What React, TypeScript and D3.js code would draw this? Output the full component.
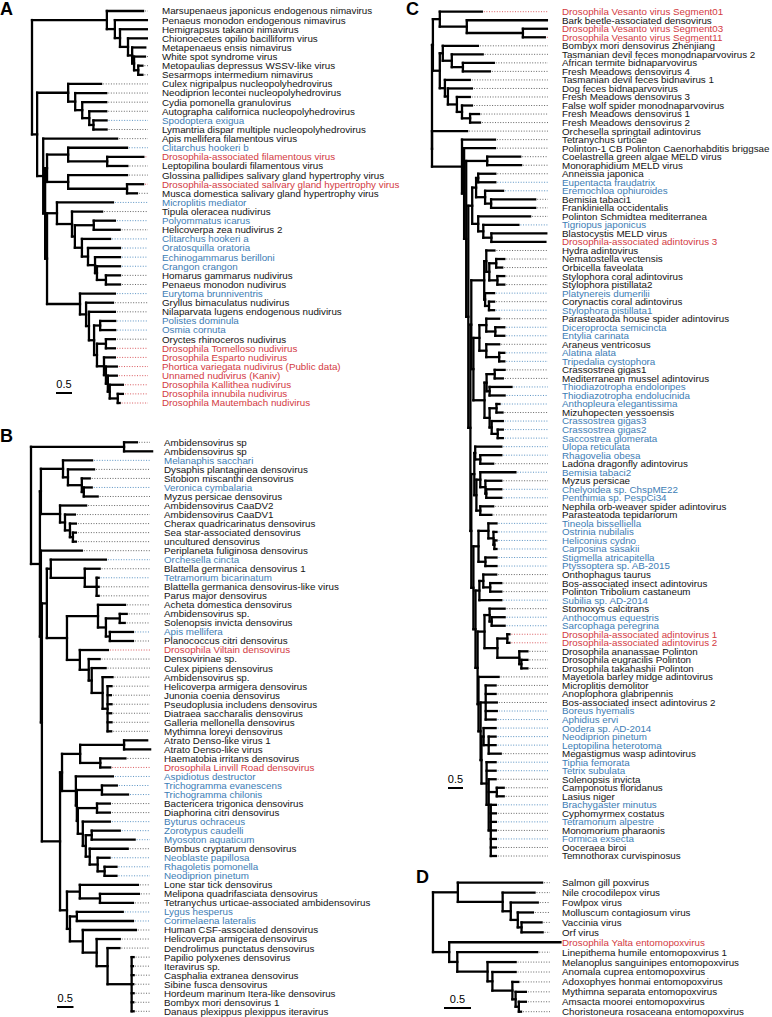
import React, { useMemo } from "react";
import * as d3 from "d3";

// ---------------- DATA ----------------
// Category of each tip: 0 = virus reference, 1 = host transcriptome (blue), 2 = Drosophila-associated (red)

const TIPS_A = [
  "Marsupenaeus japonicus endogenous nimavirus", "Penaeus monodon endogenous nimavirus", "Hemigrapsus takanoi nimavirus",
  "Chionoecetes opilio bacilliform virus", "Metapenaeus ensis nimavirus", "White spot syndrome virus",
  "Metopaulias depressus WSSV-like virus", "Sesarmops intermedium nimavirus", "Culex nigripalpus nucleopolyhedrovirus",
  "Neodiprion lecontei nucleopolyhedrovirus", "Cydia pomonella granulovirus", "Autographa californica nucleopolyhedrovirus",
  "Spodoptera exigua", "Lymantria dispar multiple nucleopolyhedrovirus", "Apis mellifera filamentous virus",
  "Clitarchus hookeri b", "Drosophila-associated filamentous virus", "Leptopilina boulardi filamentous virus",
  "Glossina pallidipes salivary gland hypertrophy virus", "Drosophila-associated salivary gland hypertrophy virus",
  "Musca domestica salivary gland hypertrophy virus", "Microplitis mediator", "Tipula oleracea nudivirus",
  "Polyommatus icarus", "Helicoverpa zea nudivirus 2", "Clitarchus hookeri a", "Oratosquilla oratoria",
  "Echinogammarus berilloni", "Crangon crangon", "Homarus gammarus nudivirus", "Penaeus monodon nudivirus",
  "Eurytoma brunniventris", "Gryllus bimaculatus nudivirus", "Nilaparvata lugens endogenous nudivirus",
  "Polistes dominula", "Osmia cornuta", "Oryctes rhinoceros nudivirus", "Drosophila Tomelloso nudivirus",
  "Drosophila Esparto nudivirus", "Phortica variegata nudivirus (Public data)", "Unnamed nudivirus (Kaniv)",
  "Drosophila Kallithea nudivirus", "Drosophila innubila nudivirus", "Drosophila Mautembach nudivirus",
];
const CATS_A = [0,0,0,0,0,0,0,0,0,0,0,0,1,0,0,1,2,0,0,2,0,1,0,1,0,1,1,1,1,0,0,1,0,0,1,1,0,2,2,2,2,2,2,2];
const NEWICK_A = `
((1:1.13,(2:1.0,(3:0.84,(4:0.59,(5:0.41,(6:0.34,(7:0.13,8:0.13):0.13):0.06):0.13):0.25):0.16):0.25):2.34,
 ((9:1.03,(10:0.97,(11:0.75,(12:0.53,(13:0.41,14:0.41):0.13):0.22):0.22):0.22):0.97,
  (15:2.31,
   (((16:1.84,(17:1.13,18:0.63):1.22):0.66,(19:1.84,(20:0.5,21:0.31):1.84):0.66):0.06,
    ((22:1.75,(23:0.94,((24:0.66,25:0.81):0.59,(26:0.88,(27:1.0,(28:0.78,(29:0.72,(30:0.44,31:0.44):0.28):0.06):0.22):0.19):0.22):0.09):0.47):0.31,
     (32:1.09,(33:0.84,(34:0.81,((35:0.47,36:0.47):0.19,((37:0.28,38:0.28):0.28,(39:0.34,(40:0.34,(41:0.28,(42:0.41,(43:0.16,44:0.06):0.25):0.06):0.06):0.06):0.22):0.09):0.16):0.09):0.19):1.03
    ):0.06
   ):0.06
  ):0.19
 ):0.16);`;

const TIPS_B = [
  "Ambidensovirus sp", "Ambidensovirus sp", "Melanaphis sacchari", "Dysaphis plantaginea densovirus",
  "Sitobion miscanthi densovirus", "Veronica cymbalaria", "Myzus persicae densovirus", "Ambidensovirus CaaDV2",
  "Ambidensovirus CaaDV1", "Cherax quadricarinatus densovirus", "Sea star-associated densovirus", "uncultured densovirus",
  "Periplaneta fuliginosa densovirus", "Orchesella cincta", "Blattella germanica densovirus 1", "Tetramorium bicarinatum",
  "Blattella germanica densovirus-like virus", "Parus major densovirus", "Acheta domestica densovirus", "Ambidensovirus sp.",
  "Solenopsis invicta densovirus", "Apis mellifera", "Planococcus citri densovirus", "Drosophila Viltain densovirus",
  "Densovirinae sp.", "Culex pipiens densovirus", "Ambidensovirus sp.", "Helicoverpa armigera densovirus",
  "Junonia coenia densovirus", "Pseudoplusia includens densovirus", "Diatraea saccharalis densovirus",
  "Galleria mellonella densovirus", "Mythimna loreyi densovirus", "Atrato Denso-like virus 1", "Atrato Denso-like virus",
  "Haematobia irritans densovirus", "Drosophila Linvill Road densovirus", "Aspidiotus destructor", "Trichogramma evanescens",
  "Trichogramma chilonis", "Bactericera trigonica densovirus", "Diaphorina citri densovirus", "Byturus ochraceus",
  "Zorotypus caudelli", "Myosoton aquaticum", "Bombus cryptarum densovirus", "Neoblaste papillosa", "Rhagoletis pomonella",
  "Neodiprion pinetum", "Lone star tick densovirus", "Melipona quadrifasciata densovirus",
  "Tetranychus urticae-associated ambidensovirus", "Lygus hesperus", "Corimelaena lateralis", "Human CSF-associated densovirus",
  "Helicoverpa armigera densovirus", "Dendrolimus punctatus densovirus", "Papilio polyxenes densovirus", "Iteravirus sp.",
  "Casphalia extranea densovirus", "Sibine fusca densovirus", "Hordeum marinum Itera-like densovirus",
  "Bombyx mori densovirus 1", "Danaus plexippus plexippus iteravirus",
];
const CATS_B = [0,0,1,0,0,1,0,0,0,0,0,0,0,1,0,1,0,0,0,0,0,1,0,2,0,0,0,0,0,0,0,0,0,0,0,0,2,1,1,1,0,0,1,1,1,0,1,1,1,0,0,0,1,1,0,0,0,0,0,0,0,0,0,0];
const NEWICK_B = `
((1:0.39,2:0.85):2.82,
 (((3:0.88,(4:0.79,(5:0.24,(6:0.24,7:0.42):0.06):0.42):0.15):0.67,
   (8:0.79,(9:0.30,(10:0.18,(11:0.09,12:0.09):0.09):0.15):0.15):0.58):0.03,
  (13:1.24,
   (((14:1.67,(15:0.45,(16:0.06,17:0.06,18:0.06):0.36):1.03):0.12,
     ((19:0.82,((20:0.21,21:0.15):0.42,(22:0.70,23:0.70):0.12):0.24):0.94,
      (24:0.85,(25:0.33,(26:0.42,(27:0.30,(28:0.12,29:0.10,30:0.12,31:0.11,32:0.12,33:0.11):0.15):0.33):0.09):0.27):0.39
     ):0.61
    ):0.15,
    ((((34:0.70,35:0.79):1.33,(36:0.76,37:0.30):0.61):0.55,
      (38:1.12,((39:0.45,40:0.79):0.76,((41:0.39,42:0.39):0.58,(43:0.82,((44:0.85,45:1.30):0.18,(46:1.15,(47:0.36,(48:0.36,49:0.36):0.21):0.24):0.12):0.09):0.15):0.03):0.03):0.42
     ):0.06,
     ((50:1.76,(51:1.18,52:1.0):0.61):0.39,
      ((53:1.39,54:1.70):0.21,(55:1.61,(56:0.70,(57:0.36,(58:0.06,59:0.04,60:0.06,61:0.05,62:0.06,63:0.05,64:0.06):0.73):0.33):0.42):0.39):0.09
     ):0.21
    ):0.55
   ):0.03
  ):0.03
 ):0.27);`;

const TIPS_C = [
  "Drosophila Vesanto virus Segment01", "Bark beetle-associated densovirus", "Drosophila Vesanto virus Segment03",
  "Drosophila Vesanto virus Segment11", "Bombyx mori densovirus Zhenjiang", "Tasmanian devil feces monodnaparvovirus 2",
  "African termite bidnaparvovirus", "Fresh Meadows densovirus 4", "Tasmanian devil feces bidnavirus 1",
  "Dog feces bidnaparvovirus", "Fresh Meadows densovirus 3", "False wolf spider monodnaparvovirus",
  "Fresh Meadows densovirus 1", "Fresh Meadows densovirus 2", "Orchesella springtail adintovirus", "Tetranychus urticae",
  "Polinton-1 CB Polinton Caenorhabditis briggsae", "Coelastrella green algae MELD virus", "Monoraphidium MELD virus",
  "Anneissia japonica", "Eupentacta fraudatrix", "Eremochloa ophiuroides", "Bemisia tabaci1", "Frankliniella occidentalis",
  "Polinton Schmidtea mediterranea", "Tigriopus japonicus", "Blastocystis MELD virus", "Drosophila-associated adintovirus 3",
  "Hydra adintovirus", "Nematostella vectensis", "Orbicella faveolata", "Stylophora coral adintovirus",
  "Stylophora pistillata2", "Platynereis dumerilii", "Corynactis coral adintovirus", "Stylophora pistillata1",
  "Parasteatoda house spider adintovirus", "Diceroprocta semicincta", "Entylia carinata", "Araneus ventricosus",
  "Alatina alata", "Tripedalia cystophora", "Crassostrea gigas1", "Mediterranean mussel adintovirus",
  "Thiodiazotropha endoloripes", "Thiodiazotropha endolucinida", "Anthopleura elegantissima", "Mizuhopecten yessoensis",
  "Crassostrea gigas3", "Crassostrea gigas2", "Saccostrea glomerata", "Ulopa reticulata", "Rhagovelia obesa",
  "Ladona dragonfly adintovirus", "Bemisia tabaci2", "Myzus persicae", "Chelyoidea sp. ChspME22", "Penthimia sp. PespCi34",
  "Nephila orb-weaver spider adintovirus", "Parasteatoda tepidariorum", "Tineola bisselliella", "Ostrinia nubilalis",
  "Heliconius cydno", "Carposina sasakii", "Stigmella atricapitella", "Ptyssoptera sp. AB-2015", "Onthophagus taurus",
  "Bos-associated insect adintovirus", "Polinton Tribolium castaneum", "Subilia sp. AD-2014", "Stomoxys calcitrans",
  "Anthocomus equestris", "Sarcophaga peregrina", "Drosophila-associated adintovirus 1", "Drosophila-associated adintovirus 2",
  "Drosophila ananassae Polinton", "Drosophila eugracilis Polinton", "Drosophila takahashii Polinton",
  "Mayetiola barley midge adintovirus", "Microplitis demolitor", "Anoplophora glabripennis",
  "Bos-associated insect adintovirus 2", "Boreus hyemalis", "Aphidius ervi", "Oodera sp. AD-2014", "Neodiprion pinetum",
  "Leptopilina heterotoma", "Megastigmus wasp adintovirus", "Tiphia femorata", "Tetrix subulata", "Solenopsis invicta",
  "Camponotus floridanus", "Lasius niger", "Brachygaster minutus", "Cyphomyrmex costatus", "Tetramorium alpestre",
  "Monomorium pharaonis", "Formica exsecta", "Ooceraea biroi", "Temnothorax curvispinosus",
];
const CATS_C = [
  2,0,2,2,0,0,0,0,0,0, 0,0,0,0,0,0,0,0,0,0, 1,1,0,0,0,1,0,2,0,0, 0,0,0,1,0,1,0,1,1,0,
  1,1,0,0,1,1,1,0,1,1, 1,1,1,0,1,0,1,1,0,0, 1,1,1,1,1,1,0,0,0,1, 0,1,1,2,2,0,0,0,0,0,
  0,0,1,1,1,1,1,0,1,1, 0,0,0,1,0,1,0,1,0,0,
];
const NEWICK_C = `
(
 ((1:1.4,(2:2.67,(3:0.8,4:0.73):1.87):0.9):0.23,
  ((5:1.17,(6:1.03,(7:1.03,8:0.9):0.37):0.3):0.1,
   (9:0.83,(10:0.8,(11:0.43,(12:0.33,(13:0.3,14:0.33):0.27):0.17):0.3):0.1):0.17):0.23):0.03,
 (15:1.17,(16:1.1,(17:1.03,((18:1.1,19:1.13):0.7,
  (
   (((20:0.57,21:0.57):0.07,(22:0.6,(23:1.47,24:1.47):0.2):0.3):0.13,
    (25:1.73,(26:1.17,(27:1.83,28:1.8):0.27):0.17):0.2):0.13,
   (
    (
     ((29:0.27,((30:0.27,31:0.2):0.23,(32:0.23,33:0.23):0.27):0.1):0.07,
      (34:0.3,(35:0.17,36:0.17):0.13):0.03):0.43,
     (
      ((37:0.43,(38:0.3,39:0.3):0.3):0.23,(40:0.43,(41:0.17,42:0.17):0.43):0.23):0.2,
      (((43:0.33,44:0.27):0.27,(45:0.73,46:0.5):0.1):0.07,
       ((47:0.1,48:0.2):0.23,(49:0.37,(50:0.17,51:0.17):0.2):0.07):0.17):0.37
     ):0.07
    ):0.03,
    (
     ((52:0.87,(53:0.7,54:0.43):0.17):0.03,
      ((55:1.17,(56:0.53,(57:0.5,58:0.5):0.03):0.17):0.13,(59:0.43,60:0.37):0.13):0.07):0.1,
     (
      ((61:0.27,(62:0.1,(63:0.07,64:0.07):0.03):0.17):0.33,(65:0.37,66:0.37):0.23):0.17,
      (
       ((67:0.43,(68:0.37,69:0.37):0.23):0.13,70:0.73):0.13,
       (
        ((71:0.5,(72:0.43,73:0.43):0.07):0.17,((74:0.07,75:0.07):0.33,(76:0.27,(77:0.2,78:0.2):0.07):0.73):0.43):0.23,
        (79:0.67,((80:0.33,81:0.33,82:0.37,83:0.37,84:0.33):0.17,((85:0.4,(86:0.23,87:0.23,88:0.4):0.17):0.07,(89:0.3,90:0.3,(91:0.23,(92:0.23,93:0.23):0.27,(94:0.17,95:0.17,96:0.17,97:0.17,98:0.17,99:0.17,100:0.17):0.07):0.07):0.17):0.03):0.07
       ):0.03
      ):0.07
     ):0.07
    ):0.07
   ):0.03
  ):0.07
 ):0.07):0.07):0.07):1.0
);`;

const TIPS_D = [
  "Salmon gill poxvirus", "Nile crocodilepox virus", "Fowlpox virus", "Molluscum contagiosum virus", "Vaccinia virus",
  "Orf virus", "Drosophila Yalta entomopoxvirus", "Linepithema humile entomopoxvirus 1",
  "Melanoplus sanguinipes entomopoxvirus", "Anomala cuprea entomopoxvirus", "Adoxophyes honmai entomopoxvirus",
  "Mythimna separata entomopoxvirus", "Amsacta moorei entomopoxvirus", "Choristoneura rosaceana entomopoxvirus",
];
const CATS_D = [0,0,0,0,0,0,2,0,0,0,0,0,0,0];
const NEWICK_D = `((1:1.56,(2:0.59,(3:0.5,(4:0.28,(5:0.37,6:0.39):0.07):0.13):0.15):0.83):0.46,(7:2.06,(8:1.48,(9:0.52,(10:0.43,(11:0.11,(12:0.19,(13:0.13,14:0.04):0.06):0.06):0.37):0.09):0.56):0.15):0.3);`;

const SCALE_BAR_VALUE = 0.5;

// ---------------- LAYOUT ----------------
const PANELS = [
  { id: "A", newick: NEWICK_A, tips: TIPS_A, cats: CATS_A, rootX: 32, unitPx: 32, y0: 11, y1: 403, labelX: 162, leaderEnd: 148, bar: { x: 56, y: 393 }, letter: { x: 0, y: 15 } },
  { id: "B", newick: NEWICK_B, tips: TIPS_B, cats: CATS_B, rootX: 31, unitPx: 33, y0: 442.3, y1: 1011.3, labelX: 164, leaderEnd: 150, bar: { x: 57, y: 1007 }, letter: { x: 0, y: 442 } },
  { id: "C", newick: NEWICK_C, tips: TIPS_C, cats: CATS_C, rootX: 432, unitPx: 30, y0: 11.7, y1: 856, labelX: 562, leaderEnd: 548, bar: { x: 448, y: 788 }, letter: { x: 406, y: 15 } },
  { id: "D", newick: NEWICK_D, tips: TIPS_D, cats: CATS_D, rootX: 433, unitPx: 54, y0: 882.7, y1: 1011.7, labelX: 562, leaderEnd: 550, bar: { x: 444, y: 1008 }, letter: { x: 416, y: 883 } },
];

const TEXT_COLORS = ["#141414", "#3d7db5", "#d33a3f"];
const LEADER_COLORS = ["#555555", "#4a88bd", "#d64a4f"];
const FONT = "'Liberation Sans', Arial, Helvetica, sans-serif";
const LABEL_SIZE = 9.8;

type TNode = { name: string; length: number; children: TNode[] };

function parseNewick(src: string): TNode {
  const s = src.replace(/\s+/g, "");
  let i = 0;
  function node(): TNode {
    const n: TNode = { name: "", length: 0, children: [] };
    if (s[i] === "(") {
      i++;
      n.children.push(node());
      while (s[i] === ",") {
        i++;
        n.children.push(node());
      }
      i++; // ')'
    }
    let name = "";
    while (i < s.length && !",():;".includes(s[i])) name += s[i++];
    n.name = name;
    if (s[i] === ":") {
      i++;
      let num = "";
      while (i < s.length && !",();".includes(s[i])) num += s[i++];
      n.length = +num;
    }
    return n;
  }
  return node();
}

function Panel({ p }: { p: (typeof PANELS)[number] }) {
  const layout = useMemo(() => {
    const root: any = d3.hierarchy(parseNewick(p.newick), (d: TNode) => (d.children.length ? d.children : null));
    root.eachBefore((nd: any) => {
      nd.dist = nd.parent ? nd.parent.dist + nd.data.length : 0;
    });
    const leaves = root.leaves();
    const y = d3.scaleLinear().domain([0, leaves.length - 1]).range([p.y0, p.y1]);
    const x = d3.scaleLinear().domain([0, 1]).range([p.rootX, p.rootX + p.unitPx]);
    leaves.forEach((l: any, i: number) => {
      l.yv = y(i);
      l.idx = +l.data.name - 1;
    });
    root.eachAfter((nd: any) => {
      if (nd.children) nd.yv = (nd.children[0].yv + nd.children[nd.children.length - 1].yv) / 2;
    });
    return { root, leaves, x };
  }, [p]);

  const { root, leaves, x } = layout;
  const nodes: any[] = root.descendants();
  const barLen = x(SCALE_BAR_VALUE) - x(0);

  return (
    <g>
      <text x={p.letter.x} y={p.letter.y} fontFamily={FONT} fontWeight="bold" fontSize={18} fill="#000">
        {p.id}
      </text>
      {/* leaders */}
      {leaves.map((l: any, i: number) => {
        const tx = x(l.dist);
        if (tx + 3 >= p.leaderEnd) return null;
        const c = p.cats[l.idx];
        return (
          <line key={"ld" + i} x1={tx + 2} x2={p.leaderEnd} y1={l.yv} y2={l.yv}
            stroke={LEADER_COLORS[c]} strokeWidth={0.9} strokeDasharray="1,1.6" />
        );
      })}
      {/* horizontal branches */}
      {nodes.filter((n) => n.parent).map((n, i) => (
        <line key={"h" + i} x1={x(n.parent.dist)} x2={x(n.dist)} y1={n.yv} y2={n.yv}
          stroke="#000" strokeWidth={2.3} strokeLinecap="square" />
      ))}
      {/* vertical connectors */}
      {nodes.filter((n) => n.children).map((n, i) => (
        <line key={"v" + i} x1={x(n.dist)} x2={x(n.dist)} y1={n.children[0].yv} y2={n.children[n.children.length - 1].yv}
          stroke="#000" strokeWidth={2.3} strokeLinecap="square" />
      ))}
      {/* labels */}
      {leaves.map((l: any, i: number) => (
        <text key={"t" + i} x={p.labelX} y={l.yv} dy="0.35em" fontFamily={FONT} fontSize={LABEL_SIZE}
          fill={TEXT_COLORS[p.cats[l.idx]]}>
          {p.tips[l.idx]}
        </text>
      ))}
      {/* scale bar */}
      <line x1={p.bar.x} x2={p.bar.x + barLen} y1={p.bar.y} y2={p.bar.y} stroke="#000" strokeWidth={2} />
      <text x={p.bar.x + barLen / 2} y={p.bar.y - 5} textAnchor="middle" fontFamily={FONT} fontSize={11} fill="#000">
        {SCALE_BAR_VALUE}
      </text>
    </g>
  );
}

export default function App() {
  return (
    <svg width={772} height={1017} viewBox="0 0 772 1017"
      style={{ position: "absolute", left: 0, top: 0, background: "#fff" }}>
      <rect width={772} height={1017} fill="#fff" />
      {PANELS.map((p) => (
        <Panel key={p.id} p={p} />
      ))}
    </svg>
  );
}
